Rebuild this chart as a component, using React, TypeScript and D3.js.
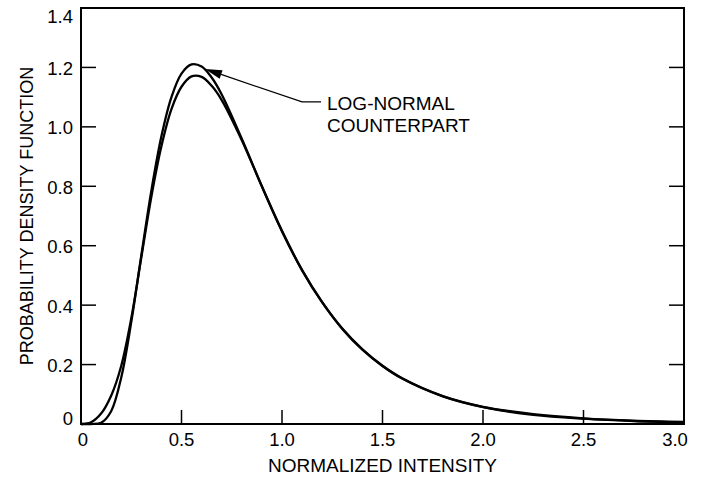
import React from "react";
import * as d3 from "d3";

// Normalized intensity sample points
const intensity = [0, 0.05, 0.1, 0.15, 0.2, 0.25, 0.3, 0.35, 0.4, 0.45, 0.5, 0.55, 0.6, 0.65, 0.7, 0.8, 0.9, 1.0, 1.1, 1.2, 1.3, 1.4, 1.5, 1.6, 1.8, 2.0, 2.25, 2.5, 2.75, 3.0];

// Log-normal counterpart (higher peak, later rise)
const logNormalPdf = [0, 0.0, 0.004, 0.043, 0.156, 0.343, 0.567, 0.785, 0.968, 1.1, 1.179, 1.21, 1.203, 1.166, 1.109, 0.96, 0.799, 0.648, 0.517, 0.409, 0.32, 0.25, 0.195, 0.152, 0.093, 0.057, 0.031, 0.018, 0.01, 0.006];

// Actual distribution (lower peak, earlier rise)
const actualPdf = [0, 0.006, 0.035, 0.095, 0.195, 0.355, 0.56, 0.765, 0.935, 1.06, 1.135, 1.17, 1.168, 1.138, 1.09, 0.955, 0.8, 0.65, 0.518, 0.41, 0.321, 0.251, 0.196, 0.153, 0.094, 0.058, 0.033, 0.019, 0.011, 0.007];

const xTicks = [0, 0.5, 1.0, 1.5, 2.0, 2.5, 3.0];
const xTickLabels = ["0", "0.5", "1.0", "1.5", "2.0", "2.5", "3.0"];
const yTicks = [0, 0.2, 0.4, 0.6, 0.8, 1.0, 1.2, 1.4];
const yTickLabels = ["0", "0.2", "0.4", "0.6", "0.8", "1.0", "1.2", "1.4"];

const xTitle = "NORMALIZED INTENSITY";
const yTitle = "PROBABILITY DENSITY FUNCTION";
const annotationLines = ["LOG-NORMAL", "COUNTERPART"];
const arrowTarget = { x: 0.617, y: 1.195 };

const W = 702;
const H = 480;
const M = { left: 81, right: 18, top: 8, bottom: 56 };
const FONT = "'Liberation Sans', Arial, Helvetica, sans-serif";

export default function App() {
  const x = d3.scaleLinear().domain([0, 3]).range([M.left, W - M.right]);
  const y = d3.scaleLinear().domain([0, 1.4]).range([H - M.bottom, M.top]);

  const line = d3
    .line<number>()
    .x((_, i) => x(intensity[i]))
    .y((d) => y(d))
    .curve(d3.curveCatmullRom.alpha(0.5));

  const x0 = x(0), x1 = x(3), y0 = y(0), y1 = y(1.4);
  const tickLen = 14;

  // annotation geometry
  const tipX = x(arrowTarget.x);
  const tipY = y(arrowTarget.y);
  const elbowX = tipX + 97;
  const elbowY = tipY + 33;
  const dx = elbowX - tipX, dy = elbowY - tipY;
  const len = Math.hypot(dx, dy);
  const ux = dx / len, uy = dy / len;
  const hl = 17, hw = 4.5;
  const bx = tipX + ux * hl, by = tipY + uy * hl;
  const head = `M${tipX},${tipY} L${bx - uy * hw},${by + ux * hw} L${bx + uy * hw},${by - ux * hw} Z`;

  return (
    <svg width={W} height={H} style={{ position: "absolute", left: 0, top: 0, background: "#fff" }} fontFamily={FONT}>
      <rect x={0} y={0} width={W} height={H} fill="#fff" />
      {/* curves */}
      <path d={line(actualPdf) ?? ""} fill="none" stroke="#000" strokeWidth={2.3} />
      <path d={line(logNormalPdf) ?? ""} fill="none" stroke="#000" strokeWidth={2.3} />

      {/* frame */}
      <rect x={x0} y={y1} width={x1 - x0} height={y0 - y1} fill="none" stroke="#000" strokeWidth={2} />

      {/* x ticks */}
      {xTicks.slice(1, -1).map((t) => (
        <line key={"xt" + t} x1={x(t)} x2={x(t)} y1={y0} y2={y0 - tickLen} stroke="#000" strokeWidth={1.5} />
      ))}
      {/* y ticks left & right */}
      {yTicks.slice(1, -1).map((t) => (
        <g key={"yt" + t}>
          <line x1={x0} x2={x0 + 15} y1={y(t)} y2={y(t)} stroke="#000" strokeWidth={1.5} />
          <line x1={x1} x2={x1 - 15} y1={y(t)} y2={y(t)} stroke="#000" strokeWidth={1.5} />
        </g>
      ))}

      {/* tick labels */}
      {xTicks.map((t, i) => (
        <text
          key={"xl" + t}
          x={x(t) + (i === xTicks.length - 1 ? -9 : i === 0 ? 2 : 0)}
          y={446}
          fontSize={18.5}
          textAnchor="middle"
        >
          {xTickLabels[i]}
        </text>
      ))}
      {yTicks.map((t, i) => (
        <text
          key={"yl" + t}
          x={73}
          y={y(t) + (i === yTicks.length - 1 ? 8 : i === 0 ? -6 : 1)}
          fontSize={18.5}
          textAnchor="end"
          dominantBaseline="central"
        >
          {yTickLabels[i]}
        </text>
      ))}

      {/* axis titles */}
      <text x={(x0 + x1) / 2} y={472} fontSize={19} textAnchor="middle">
        {xTitle}
      </text>
      <text
        transform={`translate(33,${(y0 + y1) / 2}) rotate(-90)`}
        fontSize={18}
        textAnchor="middle"
      >
        {yTitle}
      </text>

      {/* annotation */}
      <path d={`M${elbowX + 19},${elbowY} L${elbowX},${elbowY} L${bx},${by}`} fill="none" stroke="#000" strokeWidth={1.2} />
      <path d={head} fill="#000" />
      {annotationLines.map((s, i) => (
        <text key={s} x={elbowX + 25} y={elbowY + 8.5 + i * 22} fontSize={19}>
          {s}
        </text>
      ))}
    </svg>
  );
}
